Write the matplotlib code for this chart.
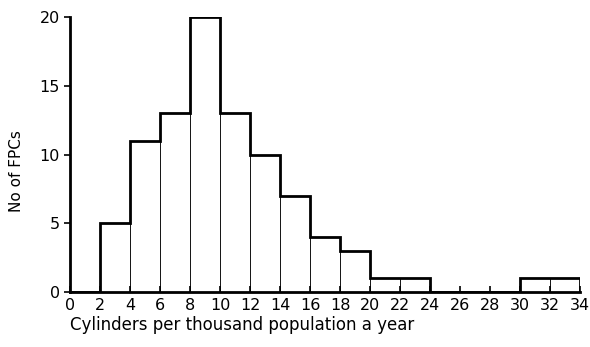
import numpy as np
import matplotlib.pyplot as plt

edges = np.arange(0, 36, 2)
counts = [0, 5, 11, 13, 20, 13, 10, 7, 4, 3, 1, 1, 0, 0, 0, 1, 1]
xticks = list(range(0, 36, 2))
yticks = [0, 5, 10, 15, 20]

plt.rcParams['font.family'] = 'DejaVu Sans'
fig = plt.figure(figsize=(5.9, 3.47), dpi=100)
ax = fig.add_axes([0.119, 0.158, 0.864, 0.793])

# thin inner bin lines
ax.bar(edges[:-1], counts, width=2, align='edge', color='white',
       edgecolor='black', linewidth=0.6, zorder=1)
# heavy outline
ax.stairs(counts, edges, baseline=0, color='black', linewidth=2, zorder=2)

ax.set_xlim(0, 34)
ax.set_ylim(0, 20)
ax.set_xticks(xticks)
ax.set_yticks(yticks)
ax.spines['top'].set_visible(False)
ax.spines['right'].set_visible(False)
ax.spines['left'].set_linewidth(2)
ax.spines['bottom'].set_linewidth(2)
ax.tick_params(axis='x', direction='in', length=4, width=1.2, labelsize=11.5, pad=4)
ax.tick_params(axis='y', direction='out', length=4, width=1.2, labelsize=11.5)
ax.set_xlabel('Cylinders per thousand population a year', fontsize=12, loc='left', labelpad=2)
ax.set_ylabel('No of FPCs', fontsize=11)
ax.yaxis.set_label_coords(-0.09, 0.44)

fig.savefig('out.png', dpi=100)
